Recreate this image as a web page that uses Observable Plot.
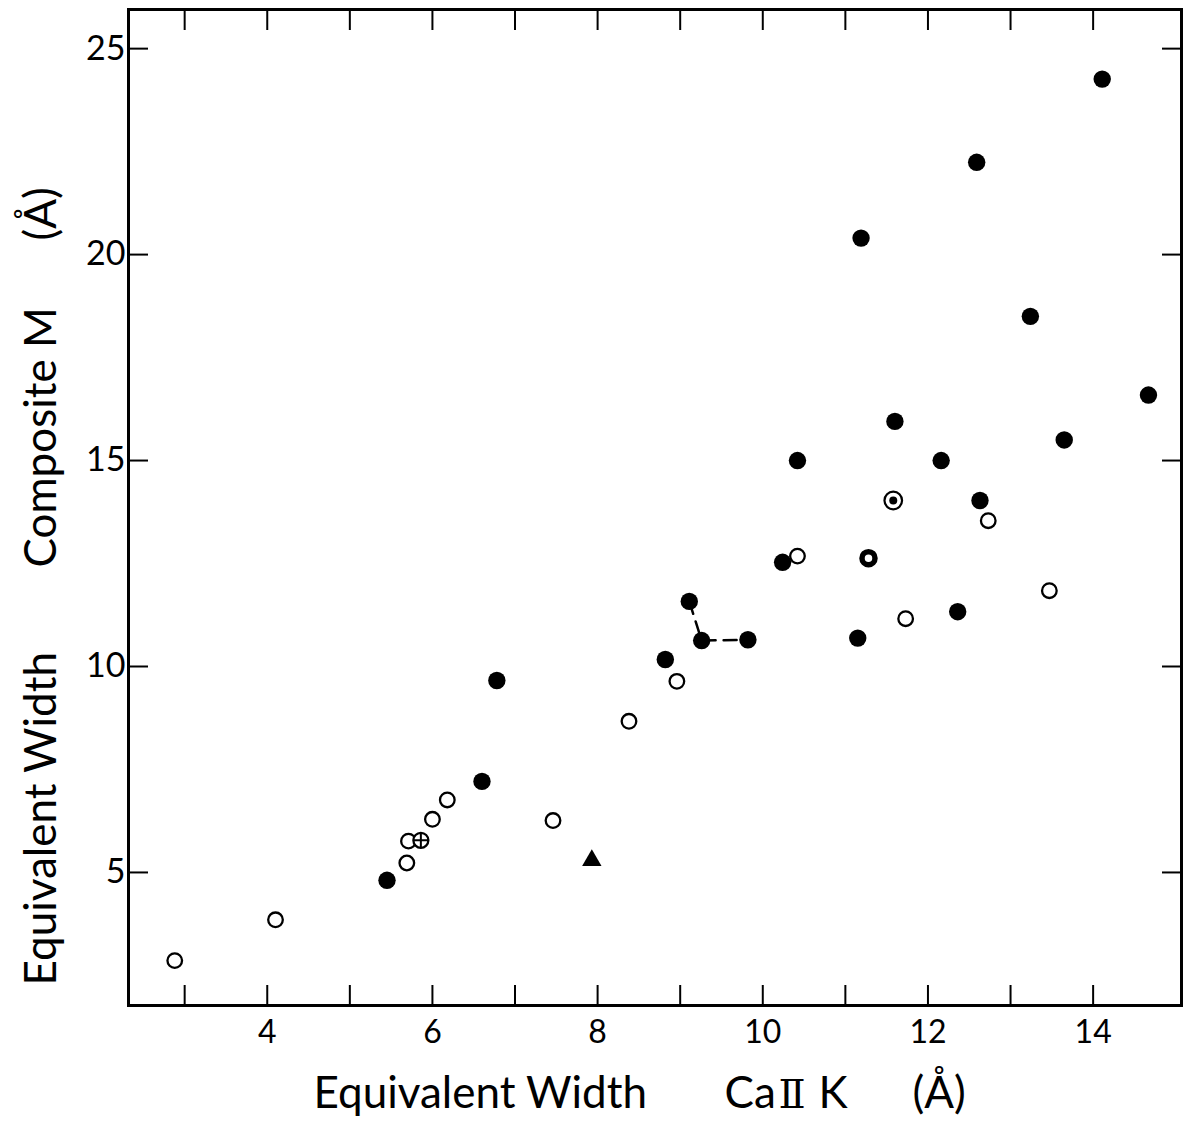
<!DOCTYPE html>
<html>
<head>
<meta charset="utf-8">
<script src="https://cdn.jsdelivr.net/npm/d3@7"></script>
<script src="https://cdn.jsdelivr.net/npm/@observablehq/plot@0.6"></script>
<style>
  html, body { margin: 0; padding: 0; background: #fff; }
  svg { display: block; }
</style>
</head>
<body>
<div id="chart"></div>
<script>
// Equivalent width Ca II K (x) vs Composite M equivalent width (y), in Å
const filledX = [14.11, 12.59, 11.19, 13.24, 14.67, 11.60, 13.65, 10.42, 12.16, 12.63, 10.24, 9.11, 9.26, 9.82, 11.15, 12.36, 8.82, 6.78, 6.60, 5.45];
const filledY = [24.26, 22.24, 20.40, 18.50, 16.59, 15.95, 15.50, 15.00, 15.00, 14.03, 12.53, 11.58, 10.63, 10.65, 10.69, 11.33, 10.17, 9.66, 7.21, 4.81];
const openX = [2.88, 4.10, 5.69, 5.71, 6.00, 6.18, 7.46, 8.38, 8.96, 10.42, 11.73, 12.73, 13.47];
const openY = [2.86, 3.85, 5.23, 5.76, 6.29, 6.76, 6.26, 8.67, 9.64, 12.68, 11.16, 13.54, 11.84];
const crossedX = [5.86];
const crossedY = [5.78];
const dottedX = [11.58];
const dottedY = [14.03];
const ringX = [11.28];
const ringY = [12.63];
const triangleX = [7.93];
const triangleY = [5.29];
const linkedX = [9.11, 9.26, 9.82];
const linkedY = [11.58, 10.63, 10.65];

const xDomain = [2.32, 15.07];
const yDomain = [1.77, 25.95];
const xTicks = [3, 4, 5, 6, 7, 8, 9, 10, 11, 12, 13, 14];
const xTickLabels = [4, 6, 8, 10, 12, 14];
const yTicks = [5, 10, 15, 20, 25];

const xTitleParts = ["Equivalent Width", "Ca", "\u2161", "K", "(\u00C5)"];
const yTitleParts = ["Equivalent Width", "Composite M", "(\u00C5)"];

const pts = (xs, ys) => xs.map((x, i) => ({x, y: ys[i]}));

const FONT = "Lato, 'DejaVu Sans', sans-serif";
const W = 400;

const titleX = (s, dx, extra = {}) => Plot.text([s], {text: d => d, frameAnchor: "bottom-left", textAnchor: "start", lineAnchor: "bottom", dx, dy: 102, fontSize: 44, fontWeight: W, ...extra});
const titleY = (s, dy) => Plot.text([s], {text: d => d, frameAnchor: "bottom-left", rotate: -90, textAnchor: "start", lineAnchor: "bottom", dx: -73, dy, fontSize: 44, fontWeight: W});

const chart = Plot.plot({
  width: 1189,
  height: 1123,
  marginLeft: 128,
  marginRight: 8,
  marginTop: 9,
  marginBottom: 118,
  style: {fontFamily: FONT, background: "#fff", color: "#000"},
  x: {domain: xDomain, label: null},
  y: {domain: yDomain, label: null},
  marks: [
    // inward ticks on all four sides
    Plot.axisX(xTicks, {anchor: "bottom", tickSize: -20, strokeWidth: 2, fill: "none", label: null}),
    Plot.axisX(xTicks, {anchor: "top", tickSize: -20, strokeWidth: 2, fill: "none", label: null}),
    Plot.axisY(yTicks, {anchor: "left", tickSize: -20, strokeWidth: 2, fill: "none", label: null}),
    Plot.axisY(yTicks, {anchor: "right", tickSize: -20, strokeWidth: 2, fill: "none", label: null}),
    // tick labels
    Plot.axisX(xTickLabels, {anchor: "bottom", tickSize: 0, tickPadding: 15, fontSize: 32, fontWeight: W, label: null}),
    Plot.axisY(yTicks, {anchor: "left", tickSize: 0, tickPadding: 3, fontSize: 34, fontWeight: W, label: null}),
    Plot.frame({stroke: "#000", strokeWidth: 3}),
    // dashed connector
    Plot.line(pts(linkedX, linkedY), {x: "x", y: "y", stroke: "#000", strokeWidth: 2.5, strokeDasharray: "13,8"}),
    Plot.dot(pts(filledX, filledY), {x: "x", y: "y", r: 8.7, fill: "#000", stroke: "none"}),
    Plot.dot(pts(openX, openY), {x: "x", y: "y", r: 7.3, fill: "#fff", stroke: "#000", strokeWidth: 2.3}),
    Plot.dot(pts(crossedX, crossedY), {x: "x", y: "y", r: 7.5, fill: "#fff", stroke: "#000", strokeWidth: 2.3}),
    Plot.dot(pts(crossedX, crossedY), {x: "x", y: "y", r: 5, symbol: "plus", stroke: "#000", strokeWidth: 2}),
    Plot.dot(pts(dottedX, dottedY), {x: "x", y: "y", r: 8.8, fill: "#fff", stroke: "#000", strokeWidth: 2.2}),
    Plot.dot(pts(dottedX, dottedY), {x: "x", y: "y", r: 4, fill: "#000", stroke: "none"}),
    Plot.dot(pts(ringX, ringY), {x: "x", y: "y", r: 6.5, fill: "#fff", stroke: "#000", strokeWidth: 5.5}),
    Plot.dot(pts(triangleX, triangleY), {x: "x", y: "y", r: 7.2, symbol: "triangle", fill: "#000", stroke: "none"}),
    // x-axis title (pieces)
    titleX(xTitleParts[0], 185),
    titleX(xTitleParts[1], 596),
    titleX(xTitleParts[2], 650, {fontFamily: "'DejaVu Serif', 'Liberation Serif', serif", fontSize: 40, fontWeight: 400}),
    titleX(xTitleParts[3], 690),
    titleX(xTitleParts[4], 784),
    // y-axis title (pieces, rotated)
    titleY(yTitleParts[0], -20),
    titleY(yTitleParts[1], -438),
    titleY(yTitleParts[2], -765)
  ]
});
document.getElementById("chart").appendChild(chart);
</script>
</body>
</html>
